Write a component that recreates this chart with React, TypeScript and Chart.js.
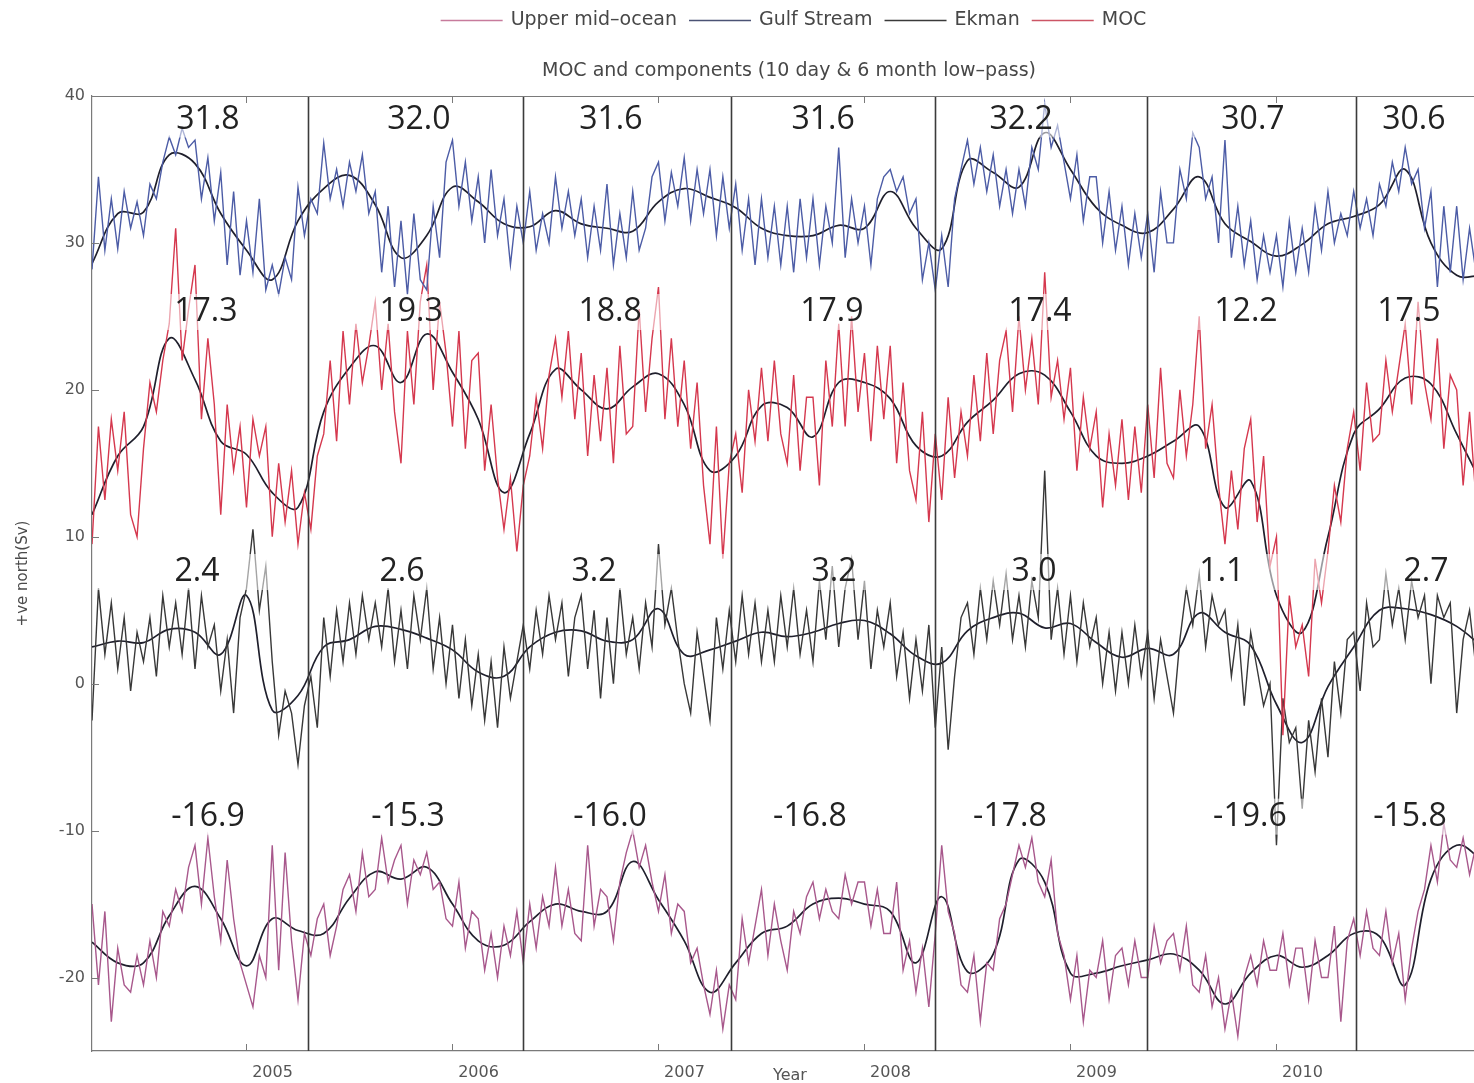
import React, { useEffect, useRef } from "react";
import { Chart, registerables } from "chart.js";

Chart.register(...registerables);

// Time grid (decimal years): short-period series every 1/32 yr, low-pass every 1/8 yr
const START_YEAR = 2004.25;
const END_YEAR = 2010.959;
const RAW_STEP = 1 / 32;
const SMOOTH_STEP = 1 / 8;

const yearTicks = [2005, 2006, 2007, 2008, 2009, 2010];
const valueTicks = [-20, -10, 0, 10, 20, 30, 40];

// Boundaries of the April-to-April averaging years
const periodBounds = [2005.299, 2006.342, 2007.352, 2008.342, 2009.371, 2010.386];

// Gulf Stream (Sv)
const gulfStreamRaw = [
  28.2, 34.5, 29.5, 33.0, 29.6, 33.5, 31.0, 32.8, 30.5, 34.0, 33.0, 35.5,
  37.2, 36.0, 37.8, 36.5, 37.0, 33.0, 35.8, 31.5, 34.8, 28.5, 33.5, 27.8,
  31.5, 28.0, 33.0, 26.8, 28.5, 26.5, 29.0, 27.5, 33.8, 30.5, 33.0, 32.0,
  36.8, 33.0, 35.0, 32.5, 35.5, 33.5, 36.0, 32.0, 33.5, 28.0, 32.5, 27.0,
  31.5, 26.5, 32.0, 27.5, 26.8, 32.5, 29.0, 35.5, 37.0, 32.5, 35.5, 31.5,
  34.5, 30.0, 35.0, 30.5, 33.0, 28.5, 32.5, 30.0, 33.5, 29.5, 32.0, 30.0,
  34.5, 31.0, 33.5, 30.5, 33.0, 29.0, 32.5, 29.5, 34.0, 28.5, 32.0, 29.0,
  33.5, 29.5, 31.0, 34.5, 35.5, 31.5, 34.8, 32.5, 35.8, 31.5, 35.0, 32.0,
  35.0, 30.5, 34.5, 31.0, 34.0, 29.5, 33.0, 28.5, 33.0, 29.0, 32.5, 28.5,
  32.5, 28.0, 33.0, 29.0, 33.0, 28.5, 32.5, 30.0, 36.5, 29.0, 33.0, 30.0,
  32.5, 28.5, 33.0, 34.5, 35.0, 33.5, 34.5, 32.0, 33.0, 27.5, 30.0, 26.8,
  30.5, 27.0, 33.0, 35.0, 37.0, 34.0, 36.5, 33.5, 36.0, 32.5, 35.0, 32.0,
  35.0, 32.5, 36.5, 35.0, 39.5, 36.5, 38.0, 35.5, 33.0, 36.0, 31.5, 34.5,
  34.5, 30.0, 33.5, 29.5, 32.5, 28.5, 32.0, 29.0, 32.0, 28.0, 33.5, 30.0,
  30.0, 35.0, 33.0, 37.5, 36.5, 33.0, 34.5, 30.0, 37.0, 29.0, 32.5, 28.5,
  31.5, 27.5, 30.5, 28.0, 30.5, 27.0, 31.5, 28.0, 31.0, 28.0, 32.5, 29.5,
  33.5, 30.0, 32.0, 30.5, 33.5, 31.0, 33.0, 30.5, 34.0, 32.5, 35.5, 33.5,
  36.5, 34.0, 35.0, 31.0, 33.5, 27.0, 32.5, 28.0, 32.5, 27.5, 31.0, 28.0,
  31.5, 27.5,
];
const gulfStreamSmooth = [
  28.6, 32.0, 32.1, 36.0, 35.4, 32.0, 29.5, 27.5, 31.5, 33.7, 34.6, 32.6,
  29.0, 30.5, 33.8, 32.8, 31.3, 31.1, 32.2, 31.3, 31.0, 30.8, 32.8, 33.7,
  33.1, 32.4, 31.0, 30.5, 30.5, 31.2, 31.0, 33.5, 31.0, 29.6, 35.6, 34.8,
  33.8, 37.5, 35.0, 32.4, 31.2, 30.7, 32.3, 34.5, 31.3, 30.1, 29.1, 29.9,
  31.3, 31.8, 32.6, 35.0, 30.0, 27.8, 27.8,
];

// MOC (Sv)
const mocRaw = [
  9.5, 17.5, 12.5, 18.0, 14.5, 18.5, 11.5, 10.0, 16.0, 20.5, 18.5, 22.0,
  24.5, 31.0, 22.0, 25.5, 28.5, 18.0, 23.5, 19.0, 11.5, 19.0, 14.5, 17.5,
  12.0, 18.0, 15.5, 17.5, 10.0, 15.0, 11.0, 14.5, 9.5, 13.0, 10.5, 15.5,
  17.0, 22.0, 16.5, 24.0, 19.0, 24.5, 20.5, 23.0, 26.0, 20.0, 24.5, 18.5,
  15.0, 24.0, 19.0, 26.0, 28.5, 20.0, 26.0, 22.5, 17.5, 24.0, 16.0, 22.0,
  22.5, 14.5, 19.0, 14.0, 10.5, 14.0, 9.0, 13.5, 15.5, 19.5, 16.0, 21.0,
  23.5, 19.5, 24.0, 18.0, 22.5, 15.5, 21.0, 16.5, 21.5, 15.0, 23.0, 17.0,
  17.5, 25.5, 18.5, 23.5, 27.0, 18.0, 23.5, 17.5, 22.0, 16.0, 20.5, 13.5,
  9.5, 17.5, 8.5, 15.0, 17.0, 13.0, 20.0, 16.5, 21.5, 16.5, 22.0, 17.0,
  15.0, 21.0, 14.5, 19.5, 19.5, 13.5, 22.0, 17.5, 24.5, 17.5, 25.0, 18.5,
  22.5, 16.5, 23.0, 18.0, 23.0, 15.0, 20.5, 14.5, 12.5, 18.5, 11.0, 17.0,
  12.5, 19.5, 14.0, 18.5, 15.5, 21.0, 16.5, 22.5, 17.0, 22.0, 24.0, 18.5,
  25.0, 20.0, 23.5, 19.0, 28.0, 19.5, 22.0, 18.0, 21.5, 14.5, 19.5, 16.0,
  18.5, 12.0, 17.0, 13.5, 18.0, 12.5, 17.5, 13.0, 19.0, 14.0, 21.5, 15.0,
  14.0, 20.0, 15.5, 19.0, 25.0, 16.0, 19.0, 13.5, 9.5, 14.5, 10.5, 16.0,
  18.0, 11.0, 15.5, 8.0, 10.0, -3.5, 6.0, 2.5, 4.0, 0.5, 8.5, 5.5,
  9.0, 13.5, 11.0, 16.0, 18.5, 14.5, 20.5, 16.5, 17.0, 22.0, 18.5, 21.5,
  24.5, 19.0, 26.0, 20.5, 18.0, 23.5, 16.0, 21.0, 20.0, 13.5, 18.5, 12.5,
  12.0, 15.0,
];
const mocSmooth = [
  11.5, 15.5, 17.5, 23.5, 20.7, 16.5, 15.6, 13.0, 12.0, 18.5, 21.5, 23.0,
  20.5, 23.8, 21.2, 18.0, 13.0, 17.0, 21.4, 20.0, 18.7, 20.2, 21.1, 19.0,
  14.5, 15.5, 18.9, 18.8, 16.8, 20.5, 20.5, 19.4, 16.2, 15.5, 17.8, 19.3,
  21.1, 21.0, 18.5, 15.5, 15.0, 15.5, 16.5, 17.5, 12.0, 13.8, 6.0, 3.5,
  10.0, 17.0, 18.7, 20.8, 20.4, 17.0, 13.5,
];

// Ekman (Sv)
const ekmanRaw = [
  -2.5, 6.5, 2.0, 5.5, 1.0, 4.5, -0.5, 3.5, 1.5, 4.5, 0.5, 6.0,
  2.5, 5.5, 2.0, 6.5, 1.0, 6.0, 2.5, 4.0, -0.5, 3.0, -2.0, 4.5,
  6.5, 10.5, 5.0, 8.0, 1.5, -3.5, -0.5, -2.0, -5.5, -1.5, 0.5, -3.0,
  4.5, 0.5, 5.0, 1.5, 5.5, 2.0, 6.0, 3.0, 5.5, 2.5, 6.5, 1.5,
  5.0, 1.0, 6.0, 3.0, 6.5, 1.0, 4.5, 0.0, 4.0, -1.0, 3.0, -1.5,
  2.0, -2.5, 1.5, -3.0, 2.5, -1.0, 1.5, 4.0, 1.0, 5.0, 2.0, 6.0,
  3.0, 5.5, 0.5, 4.5, 6.0, 1.0, 5.0, -1.0, 4.5, 0.0, 6.5, 2.0,
  4.5, 1.0, 5.5, 2.5, 9.5, 4.0, 6.5, 3.0, 0.0, -2.0, 3.5, 0.5,
  -2.5, 4.5, 1.0, 5.0, 1.5, 6.0, 2.0, 5.5, 1.5, 5.0, 1.5, 6.0,
  2.5, 6.5, 2.0, 5.0, 1.5, 7.0, 3.0, 8.0, 2.5, 6.5, 8.5, 3.0,
  7.0, 1.0, 5.0, 2.5, 5.5, 0.5, 3.5, -1.0, 3.0, -0.5, 4.0, -3.0,
  2.5, -4.5, 0.5, 4.5, 5.5, 2.0, 6.5, 3.0, 7.0, 4.0, 7.5, 3.0,
  6.0, 2.5, 7.0, 4.5, 14.5, 3.0, 6.5, 2.0, 6.0, 1.5, 5.5, 2.5,
  4.5, 0.0, 3.5, -0.5, 3.5, 0.0, 4.0, 0.5, 3.5, -1.0, 3.0, 0.5,
  -2.0, 3.0, 6.5, 4.0, 7.5, 2.5, 6.0, 4.0, 5.0, 0.5, 4.0, -1.5,
  3.5, 1.0, -1.5, 0.0, -11.0, -1.0, -4.0, -3.0, -8.5, -2.5, -6.0, -1.0,
  -5.0, 1.5, -2.0, 3.0, 3.5, -0.5, 5.5, 2.5, 3.0, 7.5, 4.0, 6.5,
  3.0, 7.0, 4.5, 6.0, 0.0, 6.0, 4.5, 5.5, -2.0, 3.0, 5.0, 1.0,
  1.0, 2.5,
];
const ekmanSmooth = [
  2.5, 2.9, 2.8, 3.7, 3.5, 2.0, 6.0, -1.8, -0.8, 2.5, 3.0, 3.9,
  3.7, 3.1, 2.3, 0.8, 0.5, 2.5, 3.5, 3.6, 2.9, 3.0, 5.1, 2.0,
  2.3, 2.9, 3.5, 3.2, 3.5, 4.1, 4.3, 3.4, 1.9, 1.4, 3.6, 4.5,
  4.8, 3.8, 4.1, 2.8, 1.8, 2.4, 2.0, 4.8, 3.5, 2.6, -1.4, -4.0,
  -0.2, 2.5, 5.0, 5.1, 4.7, 3.9, 2.5,
];

// Upper mid-ocean (Sv)
const upperMidOceanRaw = [
  -15.0, -20.5, -15.5, -23.0, -18.0, -20.5, -21.0, -18.5, -20.5, -17.5, -20.0, -15.5,
  -16.5, -14.0, -15.5, -12.5, -11.0, -15.0, -10.5, -14.5, -17.5, -12.0, -16.0, -19.0,
  -20.5, -22.0, -18.5, -20.0, -11.0, -19.5, -11.5, -17.5, -21.5, -17.0, -18.5, -16.0,
  -15.0, -18.5, -16.5, -14.0, -13.0, -15.5, -11.5, -14.5, -14.0, -10.5, -13.5, -12.0,
  -11.0, -15.0, -12.0, -13.0, -11.5, -14.0, -13.5, -16.0, -16.5, -13.5, -18.0, -15.5,
  -16.0, -19.5, -17.0, -20.0, -16.5, -18.5, -15.5, -19.0, -15.0, -18.0, -14.5, -16.5,
  -12.5, -16.5, -14.0, -17.0, -17.5, -11.0, -16.5, -14.0, -14.5, -17.5, -13.5, -11.5,
  -10.0, -12.5, -11.0, -13.5, -15.5, -13.0, -17.0, -15.0, -15.5, -19.0, -18.0, -20.5,
  -22.5, -19.5, -23.5, -20.5, -21.5, -16.0, -19.0, -16.5, -14.0, -18.5, -15.0, -17.5,
  -19.5, -15.5, -17.0, -14.5, -13.5, -16.0, -14.0, -15.5, -16.0, -13.0, -15.0, -13.5,
  -13.5, -16.5, -14.0, -17.0, -17.0, -13.5, -19.5, -17.5, -21.0, -18.0, -22.0, -17.0,
  -11.0, -15.5, -17.0, -20.5, -21.0, -18.5, -23.0, -19.0, -19.5, -16.0, -15.0, -13.0,
  -11.0, -12.5, -10.5, -13.5, -14.5, -12.0, -17.0, -18.5, -21.5, -18.5, -23.0, -19.5,
  -20.0, -17.5, -21.5, -18.5, -18.0, -20.5, -17.5, -20.0, -20.0, -16.5, -19.0, -17.5,
  -17.0, -19.5, -16.5, -20.5, -21.0, -18.5, -22.0, -20.0, -23.5, -21.0, -24.0, -20.0,
  -18.5, -20.5, -17.5, -19.5, -19.5, -17.0, -20.5, -18.0, -18.0, -21.5, -17.5, -20.0,
  -20.0, -16.5, -23.0, -17.5, -16.0, -18.5, -15.5, -18.0, -18.5, -15.5, -19.0, -17.0,
  -21.5, -18.0, -15.5, -14.0, -11.0, -13.5, -9.5, -12.0, -12.5, -10.5, -13.0, -11.0,
  -12.0, -13.0,
];
const upperMidOceanSmooth = [
  -17.6, -19.0, -19.0, -15.8, -13.8, -16.0, -19.2, -16.0, -16.8, -17.0, -14.6, -12.8,
  -13.3, -12.5, -15.0, -17.5, -17.8, -16.2, -15.0, -15.5, -15.5, -12.1, -14.7, -17.5,
  -21.0, -19.0, -17.0, -16.5, -15.0, -14.6, -15.0, -15.5, -19.0, -14.5, -19.6, -18.4,
  -12.0, -13.5, -19.7, -19.7, -19.2, -18.8, -18.4, -19.5, -21.8, -19.7, -18.5, -19.3,
  -18.5, -17.0, -17.2, -20.5, -13.3, -11.0, -12.0,
];

// Annual means per averaging year (Sv)
const gulfStreamMeans = [31.8, 32.0, 31.6, 31.6, 32.2, 30.7, 30.6];
const mocMeans = [17.3, 19.3, 18.8, 17.9, 17.4, 12.2, 17.5];
const ekmanMeans = [2.4, 2.6, 3.2, 3.2, 3.0, 1.1, 2.7];
const upperMidOceanMeans = [-16.9, -15.3, -16.0, -16.8, -17.8, -19.6, -15.8];

// Where each row of annual means is written (decimal year, Sv)
const meanRows = [
  { means: gulfStreamMeans, level: 38.4, years: [2004.813, 2005.837, 2006.769, 2007.799, 2008.76, 2009.886, 2010.667] },
  { means: mocMeans, level: 25.3, years: [2004.803, 2005.799, 2006.765, 2007.842, 2008.852, 2009.852, 2010.643] },
  { means: ekmanMeans, level: 7.6, years: [2004.76, 2005.755, 2006.687, 2007.852, 2008.823, 2009.735, 2010.726] },
  { means: upperMidOceanMeans, level: -9.05, years: [2004.813, 2005.784, 2006.765, 2007.735, 2008.706, 2009.871, 2010.648] },
];

const GS_COLOR = "#4c5ca6";
const MOC_COLOR = "#d5384e";
const EKMAN_COLOR = "#383838";
const UMO_COLOR = "#a8588c";
const SMOOTH_COLOR = "#1f1f2c";
const AXIS_COLOR = "#7a7a7a";
const TEXT_FONT = "'DejaVu Sans', sans-serif";

const legendItems = [
  { label: "Upper mid\u2013ocean", color: "#c77b9c" },
  { label: "Gulf Stream", color: "#4a5274" },
  { label: "Ekman", color: "#3a3a3a" },
  { label: "MOC", color: "#cc5565" },
];

const toPoints = (values: number[], step: number) =>
  values.map((v, i) => ({ x: START_YEAR + i * step, y: v }));

const rawSet = (label: string, values: number[], color: string) => ({
  label,
  data: toPoints(values, RAW_STEP),
  borderColor: color,
  borderWidth: 1.4,
  pointRadius: 0,
  tension: 0,
  fill: false,
});

const smoothSet = (label: string, values: number[]) => ({
  label,
  data: toPoints(values, SMOOTH_STEP),
  borderColor: SMOOTH_COLOR,
  borderWidth: 1.7,
  pointRadius: 0,
  tension: 0.4,
  fill: false,
});

const overlayPlugin = {
  id: "mocOverlay",
  afterDatasetsDraw(chart: any) {
    const { ctx, chartArea: a, scales } = chart;
    const x = scales.x;
    const y = scales.y;
    ctx.save();

    // pale strips behind the rows of annual means
    ctx.fillStyle = "rgba(255,255,255,0.55)";
    for (const row of meanRows) {
      const yc = y.getPixelForValue(row.level);
      ctx.fillRect(a.left + 1, yc - 18, a.right - a.left, 36);
    }

    // averaging-year separators
    ctx.strokeStyle = "#3b3b3b";
    ctx.lineWidth = 1.6;
    for (const b of periodBounds) {
      const px = Math.round(x.getPixelForValue(b)) + 0.5;
      ctx.beginPath();
      ctx.moveTo(px, a.top);
      ctx.lineTo(px, a.bottom);
      ctx.stroke();
    }

    // top frame
    ctx.strokeStyle = AXIS_COLOR;
    ctx.lineWidth = 1.2;
    ctx.beginPath();
    ctx.moveTo(a.left, a.top + 0.5);
    ctx.lineTo(a.right, a.top + 0.5);
    ctx.stroke();

    // inward tick marks
    ctx.lineWidth = 1;
    for (const v of valueTicks) {
      const py = Math.round(y.getPixelForValue(v)) + 0.5;
      ctx.beginPath();
      ctx.moveTo(a.left, py);
      ctx.lineTo(a.left + 7, py);
      ctx.stroke();
    }
    for (const v of yearTicks) {
      const px = Math.round(x.getPixelForValue(v)) + 0.5;
      ctx.beginPath();
      ctx.moveTo(px, a.bottom);
      ctx.lineTo(px, a.bottom - 7);
      ctx.stroke();
      ctx.beginPath();
      ctx.moveTo(px, a.top);
      ctx.lineTo(px, a.top + 7);
      ctx.stroke();
    }

    // annual means
    ctx.font = "32px 'Open Sans', sans-serif";
    ctx.fillStyle = "#222222";
    ctx.textAlign = "center";
    ctx.textBaseline = "middle";
    for (const row of meanRows) {
      const yc = y.getPixelForValue(row.level);
      row.means.forEach((m, i) => {
        ctx.fillText(m.toFixed(1), x.getPixelForValue(row.years[i]), yc);
      });
    }
    ctx.restore();
  },
  afterDraw(chart: any) {
    const { ctx } = chart;
    ctx.save();
    ctx.font = `19px ${TEXT_FONT}`;
    ctx.textBaseline = "middle";
    ctx.textAlign = "left";
    const lineLen = 62;
    const gapLine = 8;
    const gapItem = 12;
    const widths = legendItems.map((it) => ctx.measureText(it.label).width);
    const total =
      widths.reduce((s, w) => s + w + lineLen + gapLine, 0) + gapItem * (legendItems.length - 1);
    let cx = 793.5 - total / 2;
    const ly = 20;
    legendItems.forEach((it, i) => {
      ctx.strokeStyle = it.color;
      ctx.lineWidth = 1.3;
      ctx.beginPath();
      ctx.moveTo(cx, ly + 0.5);
      ctx.lineTo(cx + lineLen, ly + 0.5);
      ctx.stroke();
      cx += lineLen + gapLine;
      ctx.fillStyle = "#474747";
      ctx.fillText(it.label, cx, ly);
      cx += widths[i] + gapItem;
    });

    ctx.textAlign = "center";
    ctx.fillStyle = "#474747";
    ctx.font = `19px ${TEXT_FONT}`;
    ctx.fillText("MOC and components (10 day & 6 month low\u2013pass)", 789, 71);

    ctx.font = `16px ${TEXT_FONT}`;
    ctx.fillStyle = "#555555";
    ctx.textBaseline = "top";
    ctx.fillText("Year", 790, 1068);
    ctx.restore();
  },
};

export default function App() {
  const canvasRef = useRef<HTMLCanvasElement | null>(null);

  useEffect(() => {
    const canvas = canvasRef.current;
    if (!canvas) return;
    const chart = new Chart(canvas, {
      type: "line",
      data: {
        datasets: [
          rawSet("Gulf Stream", gulfStreamRaw, GS_COLOR),
          rawSet("MOC", mocRaw, MOC_COLOR),
          rawSet("Ekman", ekmanRaw, EKMAN_COLOR),
          rawSet("Upper mid\u2013ocean", upperMidOceanRaw, UMO_COLOR),
          smoothSet("Gulf Stream low-pass", gulfStreamSmooth),
          smoothSet("MOC low-pass", mocSmooth),
          smoothSet("Ekman low-pass", ekmanSmooth),
          smoothSet("Upper mid\u2013ocean low-pass", upperMidOceanSmooth),
        ] as any,
      },
      options: {
        responsive: false,
        animation: false,
        devicePixelRatio: 1,
        layout: { padding: { top: 96, left: 0, right: 0, bottom: 0 } },
        plugins: {
          legend: { display: false },
          title: { display: false },
          tooltip: { enabled: false },
        },
        scales: {
          x: {
            type: "linear",
            min: START_YEAR,
            max: END_YEAR,
            afterBuildTicks: (s: any) => {
              s.ticks = yearTicks.map((v) => ({ value: v }));
            },
            afterFit: (s: any) => {
              s.height = 32;
            },
            grid: { display: false, drawTicks: false },
            border: { display: true, color: AXIS_COLOR, width: 1.2 },
            ticks: {
              autoSkip: false,
              maxRotation: 0,
              labelOffset: 26,
              padding: 12,
              color: "#555555",
              font: { family: TEXT_FONT, size: 16 },
              callback: (v: any) => String(v),
            },
          },
          y: {
            type: "linear",
            min: -25,
            max: 40,
            afterBuildTicks: (s: any) => {
              s.ticks = valueTicks.map((v) => ({ value: v }));
            },
            afterFit: (s: any) => {
              s.width = 92;
            },
            grid: { display: false, drawTicks: false },
            border: { display: true, color: AXIS_COLOR, width: 1.2 },
            ticks: {
              padding: 7,
              color: "#555555",
              font: { family: TEXT_FONT, size: 16 },
              callback: (v: any) => String(v),
            },
            title: {
              display: true,
              text: "+ve north(Sv)",
              color: "#4a4a4a",
              font: { family: TEXT_FONT, size: 15 },
              padding: { top: 14, bottom: 0 },
            },
          },
        },
      } as any,
      plugins: [overlayPlugin],
    });
    return () => chart.destroy();
  }, []);

  return (
    <div style={{ position: "absolute", left: 0, top: 0, width: 1474, height: 1083, background: "#ffffff" }}>
      <canvas ref={canvasRef} width={1474} height={1083} style={{ display: "block" }} />
    </div>
  );
}
